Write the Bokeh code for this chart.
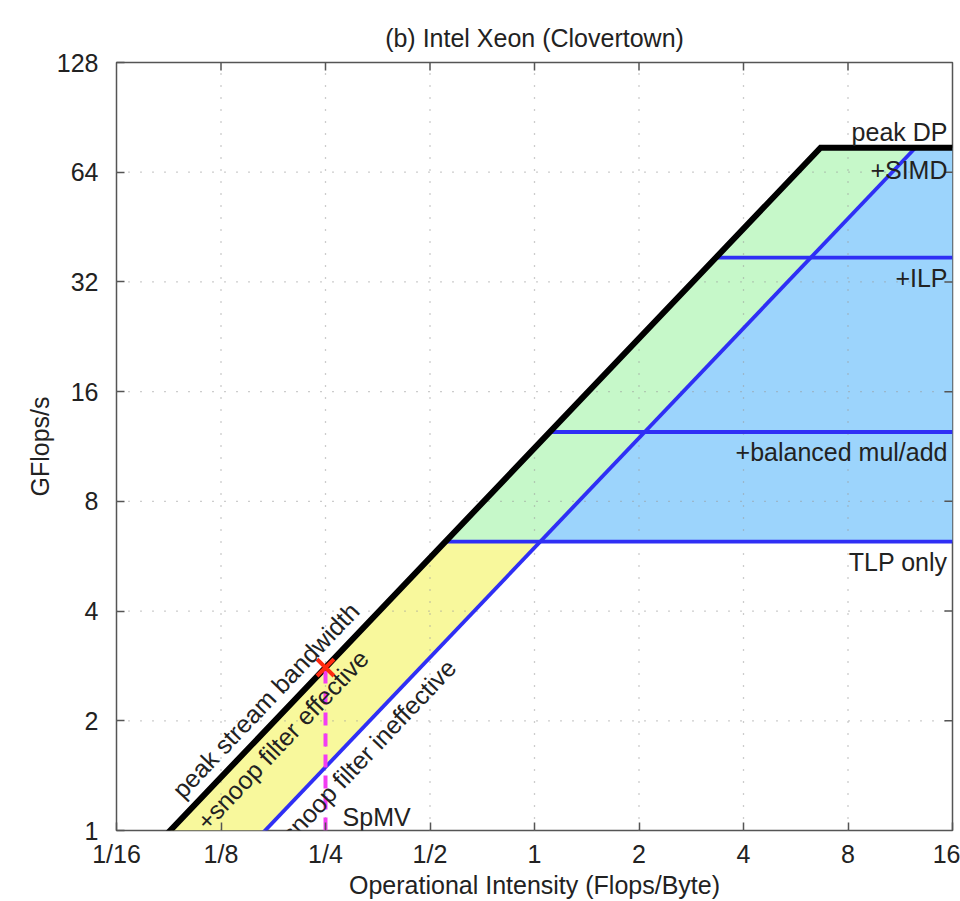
import math
from bokeh.plotting import figure
from bokeh.models import FixedTicker, Label
from bokeh.embed import file_html
from bokeh.resources import INLINE

# ---- data ----
x_ticks = [1/16, 1/8, 1/4, 1/2, 1, 2, 4, 8, 16]
x_tick_labels = ["1/16", "1/8", "1/4", "1/2", "1", "2", "4", "8", "16"]
y_ticks = [1, 2, 4, 8, 16, 32, 64, 128]
y_tick_labels = ["1", "2", "4", "8", "16", "32", "64", "128"]

peak_dp = 74.7             # GFlops/s
bw_snoop_effective = 11.2  # GB/s (peak stream bandwidth)
bw_snoop_ineffective = 5.97
ceiling_names = ["TLP only", "+balanced mul/add", "+ILP", "+SIMD"]
ceiling_values = [6.2, 12.4, 37.3, 74.7]
ceiling_label_y = [5.45, 10.9, 32.8, 64.8]
spmv_intensity = 0.25

FONT = "Liberation Sans"
FS = "25px"
TXT = "#222222"
FRAME = "#555555"

xmin, xmax = x_ticks[0], x_ticks[-1]
ymin, ymax = y_ticks[0], y_ticks[-1]

p = figure(width=960, height=901, x_axis_type="log", y_axis_type="log",
           x_range=(xmin, xmax), y_range=(ymin, ymax),
           output_backend="svg", toolbar_location=None,
           min_border_left=116, min_border_right=8,
           min_border_top=62, min_border_bottom=60)

p.title.text = "(b) Intel Xeon (Clovertown)"
p.title.align = "center"
p.title.vertical_align = "top"
p.title.text_font = FONT
p.title.text_font_size = FS
p.title.text_font_style = "normal"
p.title.text_color = TXT
p.title.standoff = 17

p.xgrid.visible = False
p.ygrid.visible = False
p.outline_line_color = FRAME
p.outline_line_width = 1.5

def style_axis(ax, ticks, labels):
    ax.ticker = FixedTicker(ticks=ticks)
    ax.major_label_overrides = {t: l for t, l in zip(ticks, labels)}
    ax.minor_tick_line_color = None
    ax.major_tick_in = 8
    ax.major_tick_out = 0
    ax.major_tick_line_color = FRAME
    ax.major_tick_line_width = 1.5
    ax.axis_line_color = None
    ax.major_label_text_font = FONT
    ax.major_label_text_font_size = FS
    ax.major_label_text_color = TXT

style_axis(p.xaxis[0], x_ticks, x_tick_labels)
style_axis(p.yaxis[0], y_ticks, y_tick_labels)
p.xaxis[0].major_label_standoff = 9
p.yaxis[0].major_label_standoff = 18
p.xaxis[0].axis_label = "Operational Intensity (Flops/Byte)"
p.yaxis[0].axis_label = "GFlops/s"
for ax in (p.xaxis[0], p.yaxis[0]):
    ax.axis_label_text_font = FONT
    ax.axis_label_text_font_size = FS
    ax.axis_label_text_font_style = "normal"
    ax.axis_label_text_color = TXT
    ax.axis_label_standoff = 0

# ---- regions ----
tlp = ceiling_values[0]
yel_x = [ymin / bw_snoop_effective, tlp / bw_snoop_effective,
         tlp / bw_snoop_ineffective, ymin / bw_snoop_ineffective]
yel_y = [ymin, tlp, tlp, ymin]
grn_x = [tlp / bw_snoop_effective, peak_dp / bw_snoop_effective,
         peak_dp / bw_snoop_ineffective, tlp / bw_snoop_ineffective]
grn_y = [tlp, peak_dp, peak_dp, tlp]
blu_x = [tlp / bw_snoop_ineffective, xmax, xmax, peak_dp / bw_snoop_ineffective]
blu_y = [tlp, tlp, peak_dp, peak_dp]
p.patch(yel_x, yel_y, fill_color="#f8f89c", line_color=None)
p.patch(grn_x, grn_y, fill_color="#c6f8c9", line_color=None)
p.patch(blu_x, blu_y, fill_color="#9cd4fc", line_color=None)

# ---- grid (dotted, drawn over fills) ----
gx = [[t, t] for t in x_ticks[1:-1]]
gy = [[ymin, ymax] for _ in x_ticks[1:-1]]
p.multi_line(gx, gy, line_color="#9a9a9a", line_width=1.3, line_dash="1 11")
hx = [[xmin, xmax] for _ in y_ticks[1:-1]]
hy = [[t, t] for t in y_ticks[1:-1]]
p.multi_line(hx, hy, line_color="#9a9a9a", line_width=1.3, line_dash="1 11")

# ---- mirrored inward ticks on top and right edges ----
p.scatter(x_ticks[1:-1], [ymax] * len(x_ticks[1:-1]), marker="dash", size=16,
          angle=math.pi / 2, line_color=FRAME, line_width=1.5)
p.scatter([xmax] * len(y_ticks[1:-1]), y_ticks[1:-1], marker="dash", size=16,
          line_color=FRAME, line_width=1.5)

# ---- ceilings ----
BLUE = "#2f2ff5"
p.line([xmin, peak_dp / bw_snoop_ineffective], [xmin * bw_snoop_ineffective, peak_dp],
       line_color=BLUE, line_width=3.8)
for v in ceiling_values[:-1]:
    p.line([v / bw_snoop_effective, xmax], [v, v], line_color=BLUE, line_width=3.8)

# ---- roofline ----
p.line([xmin, peak_dp / bw_snoop_effective, xmax],
       [xmin * bw_snoop_effective, peak_dp, peak_dp],
       line_color="black", line_width=6, line_join="miter")

# ---- SpMV ----
spmv_perf = spmv_intensity * bw_snoop_effective
p.line([spmv_intensity, spmv_intensity], [ymin, spmv_perf],
       line_color="#f23cf2", line_width=4, line_dash="13 8")
p.scatter([spmv_intensity], [spmv_perf], marker="x", size=24, line_width=4,
          line_color="#ff2a10")

# ---- labels ----
def lab(x, y, text, align="center", angle=0.0, x_off=0, y_off=0, baseline="middle"):
    p.add_layout(Label(x=x, y=y, text=text, text_align=align, text_baseline=baseline,
                       angle=angle, angle_units="deg", x_offset=x_off, y_offset=y_off,
                       text_font=FONT, text_font_size=FS, text_color=TXT))

lab(xmax, peak_dp, "peak DP", align="right", x_off=-5, y_off=16)
for name, ly in zip(ceiling_names[::-1], ceiling_label_y[::-1]):
    lab(xmax, ly, name, align="right", x_off=-5)

ANG = 46.5
lab(0.168, 2.28, "peak stream bandwidth", angle=ANG)
lab(0.188, 1.775, "+snoop filter effective", angle=ANG)
lab(0.332, 1.656, "snoop filter ineffective", angle=ANG)
lab(0.28, 1.09, "SpMV", align="left")

open("out.html", "w").write(file_html(p, INLINE))
